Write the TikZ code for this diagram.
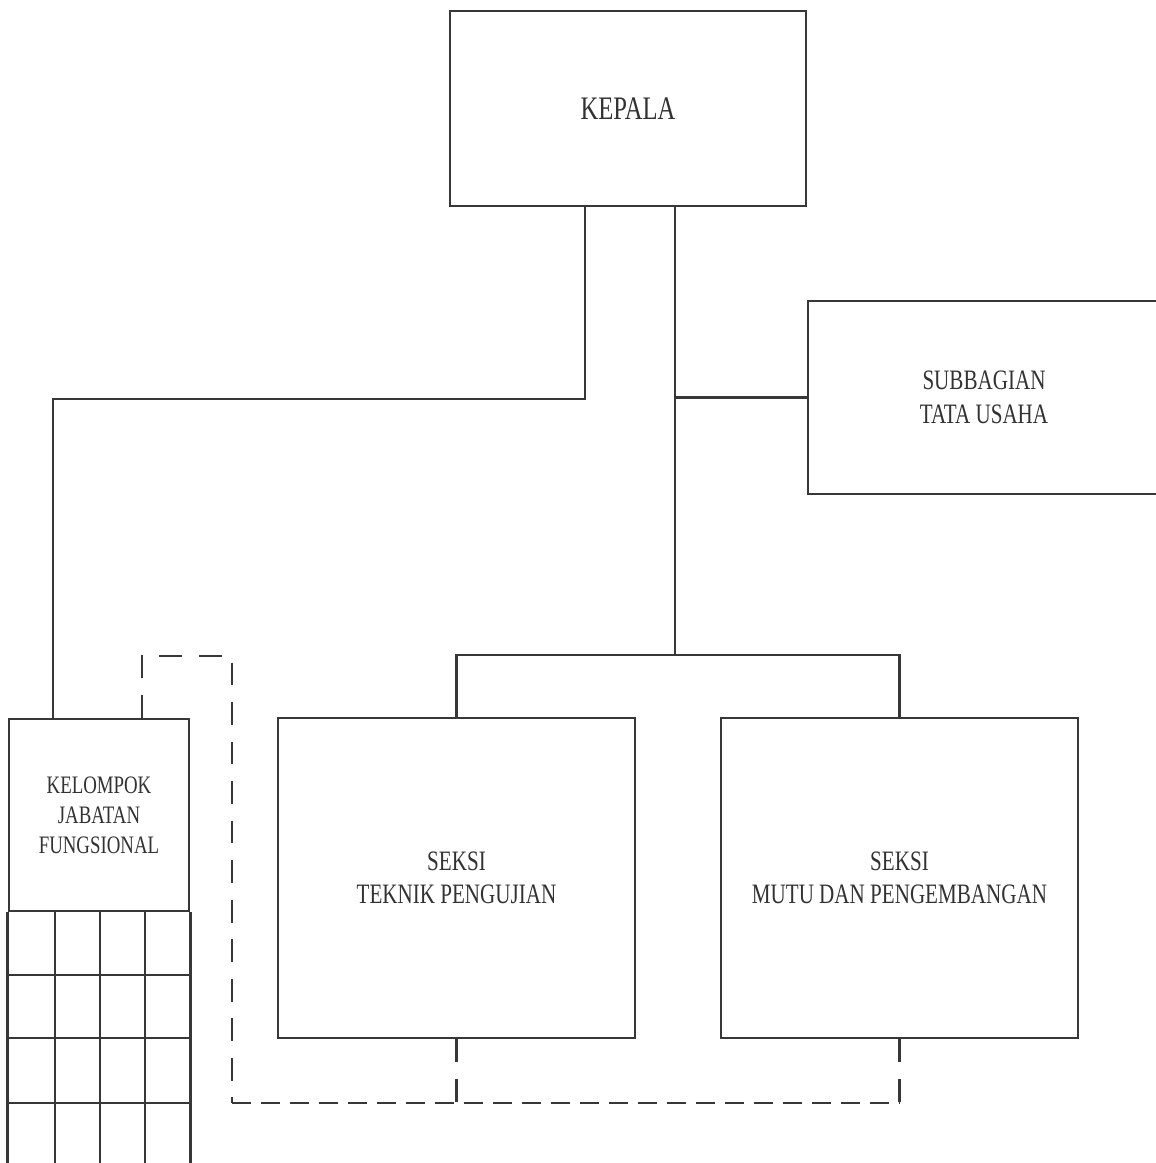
\documentclass[tikz,border=0pt]{standalone}
\usepackage{fontspec}
\setmainfont{Liberation Serif}[FakeStretch=0.75]
\begin{document}
\begin{tikzpicture}[x=0.02cm,y=-0.02cm,
  ink/.style={draw={rgb,255:red,55;green,55;blue,55}},
  line/.style={ink,line width=1.6pt},
  dashshort/.style={line,dash pattern=on 10.8pt off 5.7pt},
  dashlong/.style={line,dash pattern=on 13pt off 9.5pt},
  unit/.style={line,rectangle,inner sep=0pt,align=center,
    text={rgb,255:red,50;green,50;blue,50}},
  bigtext/.style={font=\fontsize{18.7}{22}\selectfont},
  midtext/.style={font=\fontsize{16}{19}\selectfont},
  smalltext/.style={font=\fontsize{14.3}{17}\selectfont}]
\useasboundingbox (0,0) rectangle (1156,1163);
\clip (0,0) rectangle (1156,1163);
\fill[white] (0,0) rectangle (1156,1163);

% organisational units
\node[unit,bigtext,minimum width=7.12cm,minimum height=3.9cm] (kepala) at (628,108.5) {KEPALA};
\node[unit,midtext,minimum width=7.04cm,minimum height=3.86cm] (tu) at (984,397.5) {SUBBAGIAN\\TATA USAHA};
\node[unit,midtext,minimum width=7.14cm,minimum height=6.4cm] (tp) at (456.5,878) {SEKSI\\TEKNIK PENGUJIAN};
\node[unit,midtext,minimum width=7.14cm,minimum height=6.4cm] (mdp) at (899.5,878) {SEKSI\\MUTU DAN PENGEMBANGAN};
\node[unit,smalltext,minimum width=3.6cm,minimum height=3.84cm] (kjf) at (99,815) {KELOMPOK\\JABATAN\\FUNGSIONAL};

% grid of functional positions below the group box
\draw[line] (kjf.south west) -- ++(0,270);
\draw[line] (kjf.south east) -- ++(0,270);
\foreach \x in {55,100,145} \draw[line] (\x,911) -- (\x,1181);
\foreach \y in {975,1038,1103} \draw[line] (9,\y) -- (189,\y);

% helper coordinates for the line routing
\coordinate (kl) at (585,0);
\coordinate (kr) at (675,0);
\coordinate (bend) at (53,399);
\coordinate (bus) at (0,655);
\coordinate (dl) at (142,656);
\coordinate (dr) at (232,1103);

% solid command lines
\draw[line] (kl |- kepala.south) |- (bend) -- (bend |- kjf.north);
\draw[line] (kr |- kepala.south) -- (kr |- bus);
\draw[line] (kr |- tu.west) -- (tu.west);
\draw[line] (tp.north) -- (tp.north |- bus) -- (mdp.north |- bus) -- (mdp.north);

% dashed coordination lines
\draw[dashlong] (dl |- kjf.north) -- (dl) -| (dr);
\draw[dashshort] (dr) -- (mdp.south |- dr);
\draw[dashlong] (mdp.south) -- (mdp.south |- dr);
\draw[dashlong] (tp.south) -- (tp.south |- dr);
\end{tikzpicture}
\end{document}
